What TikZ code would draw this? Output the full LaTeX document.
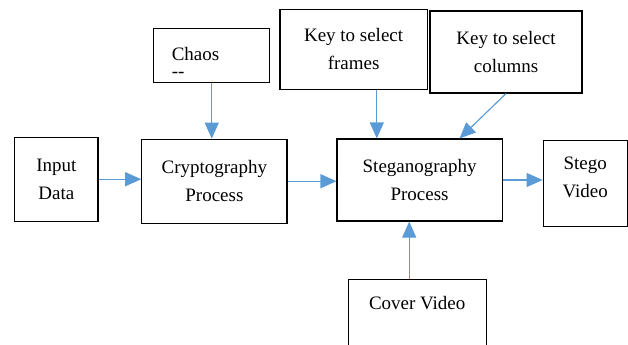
\documentclass[tikz,border=0pt]{standalone}
\usepackage{fontspec}
\setmainfont{Liberation Serif}
\usetikzlibrary{arrows.meta}
\definecolor{arrowblue}{HTML}{5B9BD5}
\tikzset{
	box/.style={draw,thick,align=center,inner sep=0pt,font=\fontsize{13.5}{20}\selectfont},
	flow/.style={draw=arrowblue,line width=0.8pt,-{Triangle[length=4mm,width=3.5mm]},fill=arrowblue}
}
\begin{document}
\begin{tikzpicture}
		\useasboundingbox (0,0) rectangle (15.7,-8.6);
		\node[box,minimum width=2.08cm,minimum height=2.1cm] (input) at (1.41,-4.48) {Input\\Data};
		\node[box,minimum width=3.63cm,minimum height=2.1cm] (crypto) at (5.36,-4.53) {Cryptography\\Process};
		\node[box,anchor=north west,align=left,inner xsep=0.45cm,text width=2.0cm,text height=0.8cm,text depth=0.55cm] (chaos) at (3.83,-0.7) {Chaos\\[-8pt]-{}-};
		\node[box,minimum width=3.68cm,minimum height=2.0cm] (frames) at (8.84,-1.23) {Key to select\\frames};
		\node[box,minimum width=3.8cm,minimum height=2.05cm] (columns) at (12.65,-1.3) {Key to select\\columns};
		\node[box,minimum width=4.13cm,minimum height=2.05cm] (steg) at (10.49,-4.5) {Steganography\\Process};
		\node[box,minimum width=2.1cm,minimum height=2.15cm,text depth=0.3cm] (stego) at (14.63,-4.58) {Stego\\Video};
		\node[box,anchor=north,minimum width=3.45cm,inner ysep=0.42cm,text depth=2cm] (cover) at (10.43,-6.98) {Cover Video};
		\draw[flow] (input.east) -- (input.east -| crypto.west);
		\draw[flow] (crypto.east) -- (crypto.east -| steg.west);
		\draw[flow] (steg.east) -- (steg.east -| stego.west);
		\draw[flow] (chaos.south) -- (chaos.south |- crypto.north);
		\draw[flow] ([xshift=0.58cm]frames.south) -- ([xshift=0.58cm]frames.south |- steg.north);
		\draw[flow] (columns.south) -- ([xshift=1cm]steg.north);
		\draw[flow] ([xshift=-0.2cm]cover.north) -- ([xshift=-0.2cm]cover.north |- steg.south);
	\end{tikzpicture}
\end{document}
